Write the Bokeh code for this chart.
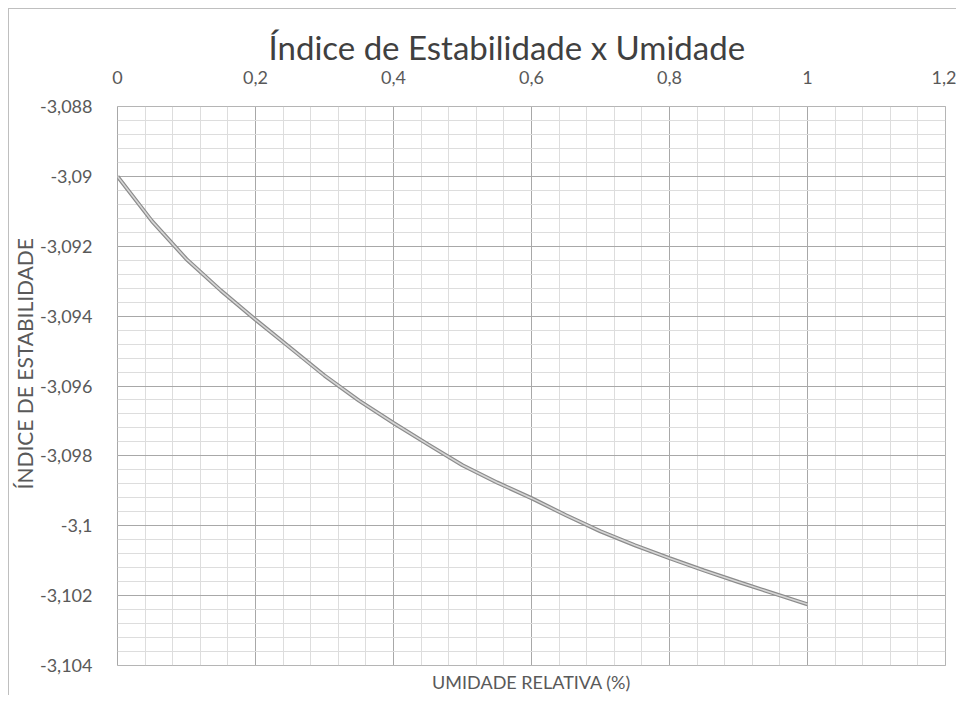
from bokeh.plotting import figure
from bokeh.models import Range1d, SingleIntervalTicker, CustomJSTickFormatter, Title
from bokeh.embed import file_html
from bokeh.resources import INLINE

# Data
umidade = [0.00, 0.05, 0.10, 0.15, 0.20, 0.25, 0.30, 0.35, 0.40, 0.45, 0.50,
           0.55, 0.60, 0.65, 0.70, 0.75, 0.80, 0.85, 0.90, 0.95, 1.00]
indice = [-3.09000, -3.09128, -3.09237, -3.09327, -3.09410, -3.09490, -3.09570,
          -3.09642, -3.09706, -3.09767, -3.09827, -3.09876, -3.09921, -3.09970,
          -3.10016, -3.10056, -3.10093, -3.10128, -3.10161, -3.10193, -3.10225]

titulo = "Índice de Estabilidade x Umidade"
titulo_x = "UMIDADE RELATIVA (%)"
titulo_y = "ÍNDICE DE ESTABILIDADE"

FONT = "Lato"
TXT = "#595959"

p = figure(width=948, height=687, output_backend="svg", toolbar_location=None,
           x_range=Range1d(0, 1.2000001), y_range=Range1d(-3.1040001, -3.0879999),
           x_axis_location="above",
           min_border_left=108, min_border_right=12, min_border_top=97, min_border_bottom=31,
           background_fill_color="white", border_fill_color="white")

p.styles = {"margin-left": "8px", "margin-top": "8px",
            "border-left": "1px solid #bfbfbf", "border-top": "1px solid #bfbfbf"}

p.title.text = titulo
p.title.text_font = FONT
p.title.text_font_size = "33px"
p.title.text_font_style = "normal"
p.title.text_color = "#404040"
p.title.align = "left"
p.title.offset = 151
p.title.standoff = 2

fmt = CustomJSTickFormatter(code="return tick.toFixed(3).replace(/0+$/, '').replace(/\\.$/, '').replace('.', ',');")

p.xaxis.ticker = SingleIntervalTicker(interval=0.2, num_minor_ticks=5)
p.yaxis.ticker = SingleIntervalTicker(interval=0.002, num_minor_ticks=5)
for ax in (p.xaxis, p.yaxis):
    ax.formatter = fmt
    ax.axis_line_color = None
    ax.major_tick_line_color = None
    ax.minor_tick_line_color = None
    ax.major_label_text_font = FONT
    ax.major_label_text_font_size = "18px"
    ax.major_label_text_color = TXT
p.xaxis.major_label_standoff = 17
p.yaxis.major_label_standoff = 19

p.xgrid.grid_line_color = "#a8a8a8"
p.ygrid.grid_line_color = "#a8a8a8"
p.xgrid.minor_grid_line_color = "#dddddd"
p.ygrid.minor_grid_line_color = "#dddddd"
p.outline_line_color = "#a8a8a8"
p.outline_line_width = 1

p.add_layout(Title(text=titulo_y, align="left", offset=176, text_font=FONT,
                   text_font_size="21px", text_font_style="normal",
                   text_color=TXT, standoff=0), "left")
p.add_layout(Title(text=titulo_x, align="center", text_font=FONT,
                   text_font_size="18px", text_font_style="normal",
                   text_color=TXT, standoff=6), "below")

p.line(umidade, indice, line_color="#8c8c8c", line_width=4)
p.line(umidade, indice, line_color="#d6d6d6", line_width=1.6)

open("out.html", "w").write(file_html(p, INLINE))
